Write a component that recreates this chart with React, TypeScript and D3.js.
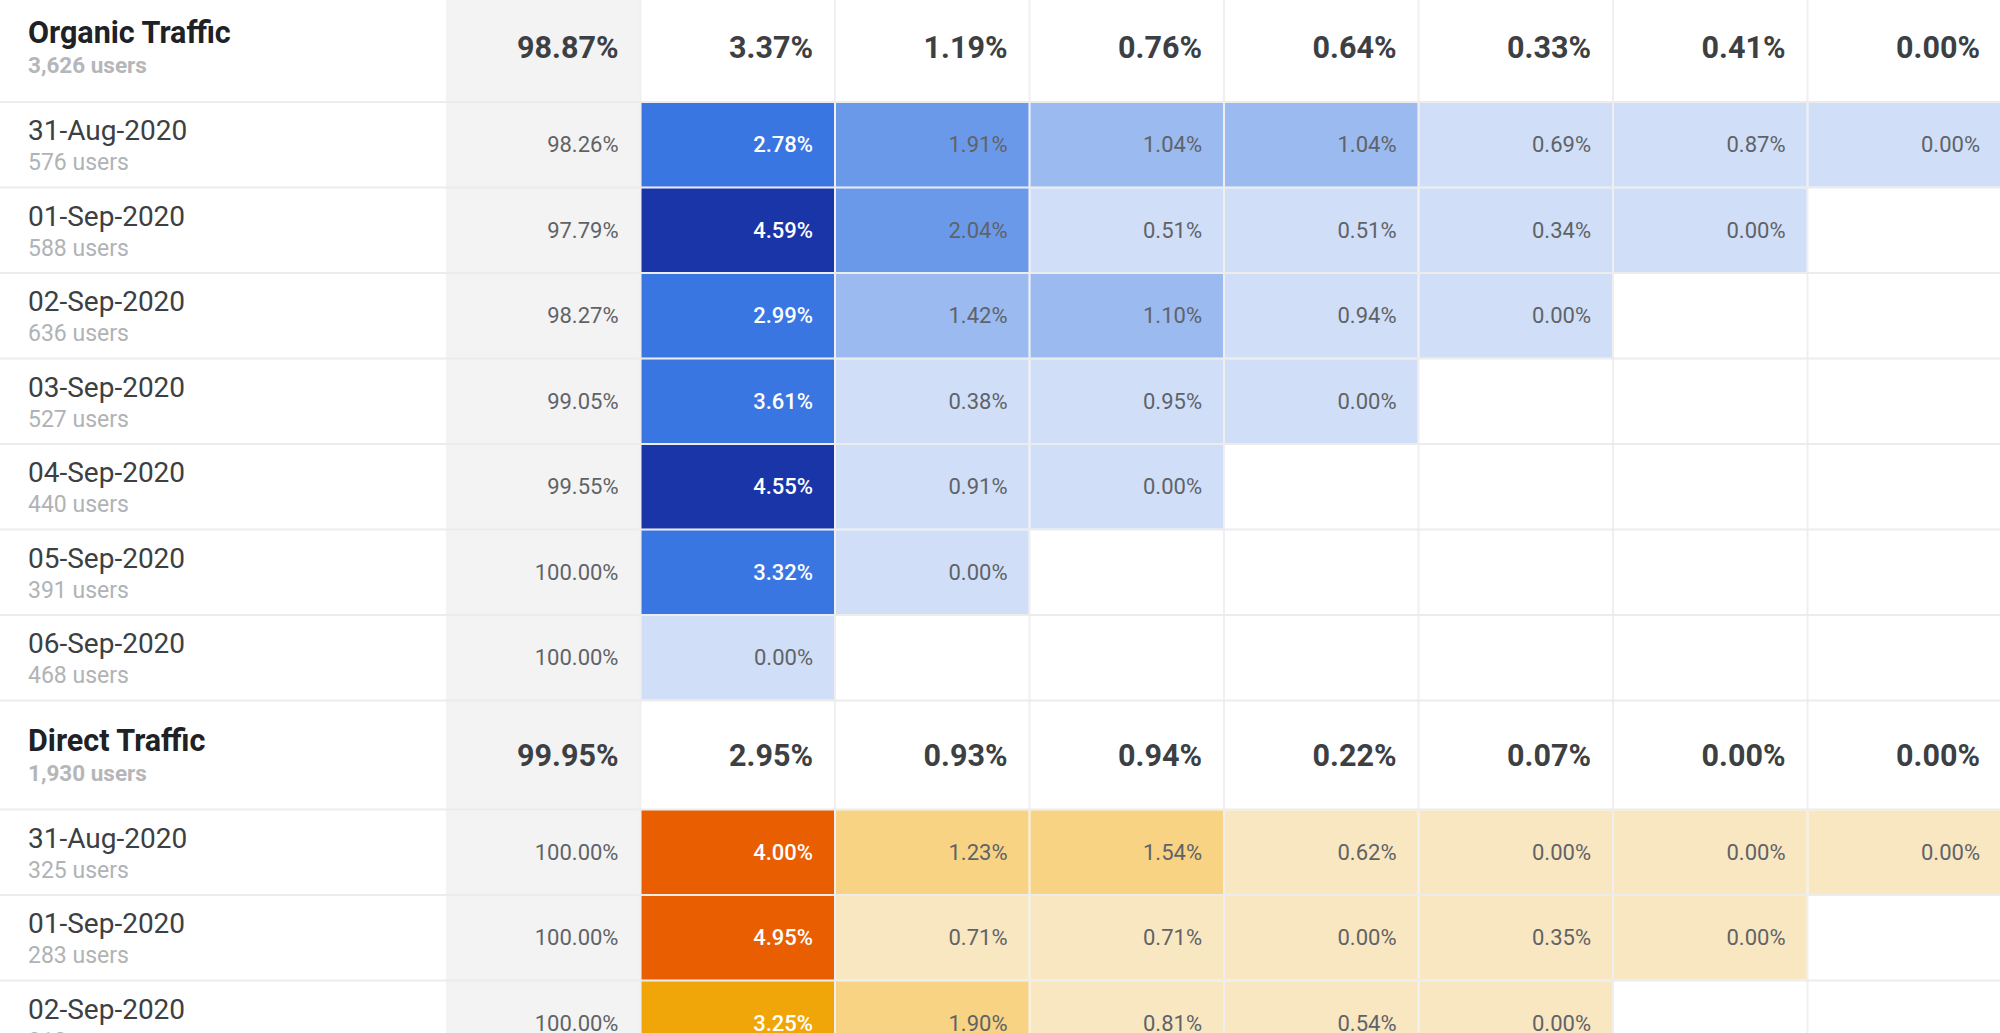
import React, { useEffect, useRef } from 'react';
import * as d3 from 'd3';

const days = ['Day 0', 'Day 1', 'Day 2', 'Day 3', 'Day 4', 'Day 5', 'Day 6', 'Day 7'];

// Organic Traffic segment
const organicTotalUsers = 3626;
const organicTotals = [98.87, 3.37, 1.19, 0.76, 0.64, 0.33, 0.41, 0.0];
const organicDates = ['31-Aug-2020', '01-Sep-2020', '02-Sep-2020', '03-Sep-2020', '04-Sep-2020', '05-Sep-2020', '06-Sep-2020'];
const organicUsers = [576, 588, 636, 527, 440, 391, 468];
const organicRates = [
  [98.26, 2.78, 1.91, 1.04, 1.04, 0.69, 0.87, 0.0],
  [97.79, 4.59, 2.04, 0.51, 0.51, 0.34, 0.0],
  [98.27, 2.99, 1.42, 1.1, 0.94, 0.0],
  [99.05, 3.61, 0.38, 0.95, 0.0],
  [99.55, 4.55, 0.91, 0.0],
  [100.0, 3.32, 0.0],
  [100.0, 0.0],
];

// Direct Traffic segment
const directTotalUsers = 1930;
const directTotals = [99.95, 2.95, 0.93, 0.94, 0.22, 0.07, 0.0, 0.0];
const directDates = ['31-Aug-2020', '01-Sep-2020', '02-Sep-2020'];
const directUsers = [325, 283, 312];
const directRates = [
  [100.0, 4.0, 1.23, 1.54, 0.62, 0.0, 0.0, 0.0],
  [100.0, 4.95, 0.71, 0.71, 0.0, 0.35, 0.0],
  [100.0, 3.25, 1.9, 0.81, 0.54, 0.0],
];

const blues = ['#d0dff7', '#9bbaf0', '#6b99ea', '#3a76e2', '#1a35a8'];
const oranges = ['#f9e7c1', '#f7d383', '#f4bc4e', '#f0a608', '#e85e00'];

const W = 2000;
const H = 1033;

export default function App() {
  const svgRef = useRef<SVGSVGElement>(null);

  useEffect(() => {
    if (!svgRef.current) return;
    const svg = d3.select(svgRef.current);
    svg.selectAll('*').remove();

    const segments = [
      {
        name: 'Organic Traffic', users: organicTotalUsers, totals: organicTotals,
        dates: organicDates, dateUsers: organicUsers, rates: organicRates,
        color: d3.scaleThreshold<number, string>().domain([1, 1.5, 2.5, 4]).range(blues),
      },
      {
        name: 'Direct Traffic', users: directTotalUsers, totals: directTotals,
        dates: directDates, dateUsers: directUsers, rates: directRates,
        color: d3.scaleThreshold<number, string>().domain([1, 2, 3, 3.9]).range(oranges),
      },
    ];

    const labelW = 446;
    const x = d3.scaleBand().domain(days).range([labelW, W + 2]);
    const bw = x.bandwidth();

    const headerH = 109;
    const rowH = 85.5;
    const fmtPct = (v: number) => d3.format('.2f')(v) + '%';
    const fmtUsers = (v: number) => d3.format(',')(v) + ' users';

    type Row = { kind: 'header' | 'data'; y: number; h: number; label: string; users: number; values: number[]; color: any };
    const rows: Row[] = [];
    let y0 = -7;
    segments.forEach(s => {
      rows.push({ kind: 'header', y: y0, h: headerH, label: s.name, users: s.users, values: s.totals, color: s.color });
      y0 += headerH;
      s.dates.forEach((d, i) => {
        rows.push({ kind: 'data', y: y0, h: rowH, label: d, users: s.dateUsers[i], values: s.rates[i], color: s.color });
        y0 += rowH;
      });
    });

    svg.append('rect').attr('width', W).attr('height', H).attr('fill', '#ffffff');
    svg.append('rect')
      .attr('x', x('Day 0')!).attr('y', 0)
      .attr('width', bw).attr('height', H)
      .attr('fill', '#f3f3f3');

    // grid
    const grid = svg.append('g').attr('stroke', '#ececec').attr('stroke-width', 2);
    days.slice(1).forEach(d => {
      grid.append('line').attr('x1', x(d)!).attr('x2', x(d)!).attr('y1', 0).attr('y2', H).attr('stroke', '#f1eef0');
    });
    rows.forEach(r => {
      grid.append('line').attr('x1', 0).attr('x2', W).attr('y1', r.y + r.h).attr('y2', r.y + r.h);
    });

    const font = 'Roboto, Arial, sans-serif';

    rows.forEach(r => {
      const g = svg.append('g').attr('transform', `translate(0,${r.y})`);
      if (r.kind === 'header') {
        g.append('text').attr('x', 28).attr('y', 50).attr('font-family', font)
          .attr('font-size', 30.5).attr('font-weight', 700).attr('fill', '#202124').text(r.label);
        g.append('text').attr('x', 28).attr('y', 80).attr('font-family', font)
          .attr('font-size', 22.5).attr('font-weight', 700).attr('fill', '#b4b6b9').text(fmtUsers(r.users));
        r.values.forEach((v, i) => {
          g.append('text').attr('x', x(days[i])! + bw - 22).attr('y', 65)
            .attr('text-anchor', 'end').attr('font-family', font)
            .attr('font-size', 30.5).attr('font-weight', 700).attr('fill', '#3c4043').text(fmtPct(v));
        });
      } else {
        g.append('text').attr('x', 28).attr('y', 38).attr('font-family', font)
          .attr('font-size', 28).attr('fill', '#3c4043').text(r.label);
        g.append('text').attr('x', 28).attr('y', 68).attr('font-family', font)
          .attr('font-size', 23).attr('fill', '#b0b3b6').text(fmtUsers(r.users));
        r.values.forEach((v, i) => {
          const cx = x(days[i])!;
          let textFill = '#5f6368';
          let weight = 400;
          if (i > 0) {
            const c = r.color(v);
            g.append('rect').attr('x', cx + 1).attr('y', 1)
              .attr('width', bw - 2).attr('height', r.h - 2).attr('fill', c);
            if (r.color.range().indexOf(c) >= 3) { textFill = '#ffffff'; weight = 500; }
          }
          g.append('text').attr('x', cx + bw - 22).attr('y', 50)
            .attr('text-anchor', 'end').attr('font-family', font)
            .attr('font-size', 22).attr('font-weight', weight).attr('fill', textFill).text(fmtPct(v));
        });
      }
    });
  }, []);

  return (
    <svg ref={svgRef} width={W} height={H} style={{ position: 'absolute', left: 0, top: 0, display: 'block' }} />
  );
}
